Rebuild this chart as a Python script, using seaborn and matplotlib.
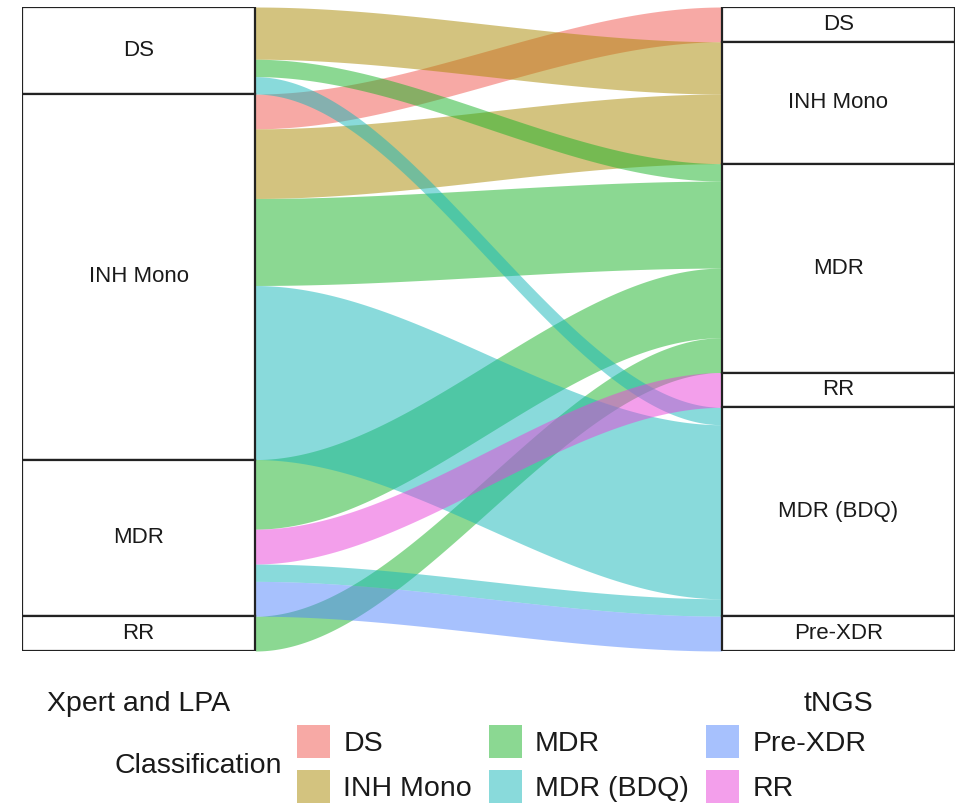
import numpy as np
import pandas as pd
import matplotlib.pyplot as plt
import seaborn as sns
from matplotlib.patches import Rectangle, Patch

# categories
classes = ["DS", "INH Mono", "MDR", "MDR (BDQ)", "Pre-XDR", "RR"]
left_order = ["DS", "INH Mono", "MDR", "RR"]
right_order = ["DS", "INH Mono", "MDR", "RR", "MDR (BDQ)", "Pre-XDR"]
axis_labels = ["Xpert and LPA", "tNGS"]

# flows: Xpert/LPA class -> tNGS class, number of isolates
src = ["DS", "DS", "DS", "INH Mono", "INH Mono", "INH Mono", "INH Mono",
       "MDR", "MDR", "MDR", "MDR", "RR"]
dst = ["INH Mono", "MDR", "MDR (BDQ)", "DS", "INH Mono", "MDR", "MDR (BDQ)",
       "MDR", "RR", "MDR (BDQ)", "Pre-XDR", "MDR"]
n = [3, 1, 1, 2, 4, 5, 10, 4, 2, 1, 2, 2]

palette = dict(zip(classes, ["#F1554D", "#A98900", "#19B327",
                             "#15B7B9", "#5185FD", "#E941D9"]))
alpha = 0.5

sns.set_style("white")
plt.rcParams["font.family"] = ["Liberation Sans", "DejaVu Sans"]

df = pd.DataFrame({"src": src, "dst": dst, "n": n})
df["li"] = df["src"].map(left_order.index)
df["ri"] = df["dst"].map(right_order.index)
df["ci"] = df["dst"].map(classes.index)
total = df["n"].sum()

# stack flows on each axis (top to bottom)
df = df.sort_values(["li", "ri"])
df["l_top"] = total - df["n"].cumsum().shift(fill_value=0)
df = df.sort_values(["ri", "li"])
df["r_top"] = total - df["n"].cumsum().shift(fill_value=0)

w = 1 / 3
fig = plt.figure(figsize=(9.61, 8.07), dpi=100)
ax = fig.add_axes([22 / 961, 1 - 651 / 807, 933 / 961, 644 / 807])

# flows
x0, x1 = 1 + w / 2, 2 - w / 2
t = np.linspace(0, 1, 200)
s = t * t * (3 - 2 * t)
xs = x0 + (x1 - x0) * t
for _, r in df.sort_values(["ci", "li"]).iterrows():
    top = r["l_top"] + (r["r_top"] - r["l_top"]) * s
    bot = top - r["n"]
    ax.fill_between(xs, bot, top, color=palette[r["dst"]], alpha=alpha,
                    linewidth=0)

# strata
for xc, order, col in [(1, left_order, "src"), (2, right_order, "dst")]:
    sizes = df.groupby(col)["n"].sum()
    top = total
    for cat in order:
        h = sizes[cat]
        ax.add_patch(Rectangle((xc - w / 2, top - h), w, h, facecolor="white",
                               edgecolor="#222222", linewidth=1.6, zorder=3))
        ax.text(xc, top - h / 2, cat, ha="center", va="center",
                fontsize=16, color="#1a1a1a", zorder=4)
        top -= h

ax.set_xlim(1 - w / 2, 2 + w / 2)
ax.set_ylim(0, total)
ax.set_xticks([1, 2])
ax.set_xticklabels(axis_labels, fontsize=20.5, color="#1a1a1a")
ax.tick_params(axis="x", length=0, pad=29)
ax.set_yticks([])
sns.despine(ax=ax, left=True, bottom=True)

# legend
handles = [Patch(facecolor=palette[c], alpha=alpha, edgecolor="none")
           for c in classes]
fig.legend(handles, classes, loc="upper left", ncol=3, frameon=False,
           bbox_to_anchor=(297 / 961, 1 - 725 / 807), fontsize=20.5,
           handlelength=1.16, handleheight=1.4, handletextpad=0.46,
           columnspacing=0.6, labelspacing=0.42, borderpad=0,
           borderaxespad=0, labelcolor="#1a1a1a")
fig.text(198 / 961, 1 - 766 / 807, "Classification", ha="center",
         va="center", fontsize=20.5, color="#1a1a1a")

fig.savefig("out.png", dpi=100)
